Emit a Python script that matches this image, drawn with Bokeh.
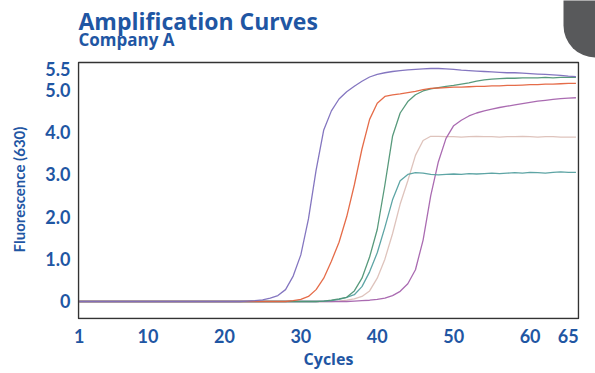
from bokeh.plotting import figure
from bokeh.layouts import column
from bokeh.models import FixedTicker, Range1d, Label, BoxAnnotation
from bokeh.embed import file_html
from bokeh.resources import INLINE

cycles = list(range(1, 67))

purple = [0, 0, 0, 0, 0, 0, 0, 0, 0, 0, 0,
          0, 0, 0, 0, 0, 0, 0, 0, 0, 0, 0,
          0.01, 0.02, 0.04, 0.08, 0.14, 0.28, 0.6, 1.1, 1.95, 3.1, 4.05,
          4.5, 4.78, 4.95, 5.08, 5.2, 5.3, 5.36, 5.4, 5.43, 5.45, 5.47,
          5.48, 5.49, 5.5, 5.5, 5.49, 5.48, 5.46, 5.45, 5.44, 5.43, 5.42,
          5.41, 5.4, 5.4, 5.39, 5.38, 5.37, 5.36, 5.35, 5.34, 5.32, 5.31]

orange = [0, 0, 0, 0, 0, 0, 0, 0, 0, 0, 0,
          0, 0, 0, 0, 0, 0, 0, 0, 0, 0, 0,
          0, 0, 0, 0, 0, 0, 0.02, 0.05, 0.12, 0.28, 0.55,
          0.95, 1.4, 2.0, 2.75, 3.6, 4.3, 4.68, 4.84, 4.88, 4.9, 4.93,
          4.96, 5.0, 5.03, 5.04, 5.05, 5.06, 5.06, 5.07, 5.08, 5.08, 5.09,
          5.09, 5.1, 5.1, 5.11, 5.12, 5.12, 5.13, 5.13, 5.14, 5.15, 5.15]

green = [0, 0, 0, 0, 0, 0, 0, 0, 0, 0, 0,
         0, 0, 0, 0, 0, 0, 0, 0, 0, 0, 0,
         0, 0, 0, 0, 0, 0, 0, 0, 0, 0, 0.01,
         0.03, 0.06, 0.1, 0.25, 0.55, 1.05, 1.7, 2.75, 3.9, 4.45, 4.72,
         4.88, 4.97, 5.02, 5.05, 5.08, 5.1, 5.13, 5.16, 5.2, 5.23, 5.25,
         5.26, 5.27, 5.27, 5.28, 5.28, 5.28, 5.29, 5.28, 5.29, 5.29, 5.29]

teal = [0, 0, 0, 0, 0, 0, 0, 0, 0, 0, 0,
        0, 0, 0, 0, 0, 0, 0, 0, 0, 0, 0,
        0, 0, 0, 0, 0, 0, 0, 0, 0, 0, 0.01,
        0.02, 0.05, 0.1, 0.16, 0.35, 0.7, 1.15, 1.75, 2.4, 2.85, 3.0,
        3.04, 3.03, 3.0, 2.99, 3.0, 3.01, 3.0, 3.02, 3.01, 3.02, 3.03,
        3.02, 3.03, 3.04, 3.03, 3.05, 3.04, 3.03, 3.05, 3.06, 3.05, 3.05]

beige = [0, 0, 0, 0, 0, 0, 0, 0, 0, 0, 0,
         0, 0, 0, 0, 0, 0, 0, 0, 0, 0, 0,
         0, 0, 0, 0, 0, 0, 0, 0, 0, 0, 0,
         0, 0.01, 0.03, 0.06, 0.12, 0.25, 0.55, 1.0, 1.6, 2.3, 2.85,
         3.45, 3.8, 3.9, 3.9, 3.89, 3.89, 3.88, 3.89, 3.9, 3.89, 3.89,
         3.88, 3.89, 3.89, 3.9, 3.89, 3.88, 3.89, 3.89, 3.88, 3.88, 3.88]

magenta = [0, 0, 0, 0, 0, 0, 0, 0, 0, 0, 0,
           0, 0, 0, 0, 0, 0, 0, 0, 0, 0, 0,
           0, 0, 0, 0, 0, 0, 0, 0, 0, 0, 0,
           0, 0, 0, 0.01, 0.02, 0.03, 0.05, 0.08, 0.14, 0.24, 0.42,
           0.75, 1.45, 2.5, 3.3, 3.85, 4.15, 4.28, 4.38, 4.45, 4.5, 4.54,
           4.58, 4.61, 4.64, 4.67, 4.7, 4.73, 4.75, 4.77, 4.79, 4.8, 4.81]

x_ticks = [1, 10, 20, 30, 40, 50, 60, 65]
y_ticks = [0, 1, 2, 3, 4, 5, 5.5]
y_tick_labels = ["0", "1.0", "2.0", "3.0", "4.0", "5.0", "5.5"]

series = [
    (beige, "#dcc0b8"),
    (magenta, "#a563ad"),
    (teal, "#55a0a0"),
    (green, "#4f9575"),
    (orange, "#e4643f"),
    (purple, "#7d6fbd"),
]

BLUE = "#1f56a3"
FONT = "Lato"
TFONT = "Open Sans"

# ---- header strip: titles and the dark corner tab ----
head = figure(width=595, height=58, output_backend="svg", toolbar_location=None,
              x_range=Range1d(0, 1), y_range=Range1d(0, 1),
              min_border_left=0, min_border_right=0, min_border_top=0,
              min_border_bottom=0)
head.axis.visible = False
head.grid.visible = False
head.outline_line_color = None
head.title.visible = False
head.background_fill_color = "white"
head.border_fill_color = "white"

# ---- main chart ----
p = figure(width=595, height=315, output_backend="svg", toolbar_location=None,
           x_range=Range1d(0.778, 66.466), y_range=Range1d(-0.425, 5.713),
           min_border_left=77, min_border_right=16, min_border_top=1,
           min_border_bottom=54)

x0 = 1
if "frame_align" in head.properties():
    head.frame_align = False
    p.frame_align = False
    x0 = 78

head.add_layout(Label(x=x0, y=38, x_units="screen", y_units="screen",
                      text="Amplification Curves", text_font=TFONT,
                      text_font_size="23px", text_font_style="bold",
                      text_color=BLUE, text_baseline="alphabetic", text_align="left"))
head.add_layout(Label(x=x0, y=19, x_units="screen", y_units="screen",
                      text="Company A", text_font=TFONT,
                      text_font_size="17px", text_font_style="bold",
                      text_color=BLUE, text_baseline="alphabetic", text_align="left"))
head.add_layout(BoxAnnotation(left=x0 + 485, right=x0 + 560, top=100, bottom=1,
                              left_units="screen", right_units="screen",
                              top_units="screen", bottom_units="screen",
                              fill_color="#58595b", fill_alpha=1.0, line_color=None,
                              border_radius=dict(top_left=0, top_right=0,
                                                 bottom_right=0, bottom_left=32)))

p.title.visible = False
p.outline_line_color = None
p.xgrid.visible = False
p.ygrid.visible = False
p.background_fill_color = "white"
p.border_fill_color = "white"

for ys, col in series:
    p.line(cycles, ys, line_color=col, line_width=1.3, line_alpha=0.95)

# chart box
p.add_layout(BoxAnnotation(left=0.908, right=66.34, bottom=-0.401, top=5.642,
                           fill_alpha=0, line_color="#333333", line_width=1.5,
                           line_alpha=1.0))

for ax in (p.xaxis[0], p.yaxis[0]):
    ax.axis_line_color = None
    ax.major_tick_line_color = None
    ax.minor_tick_line_color = None
    ax.major_tick_out = 0
    ax.major_tick_in = 0
    ax.minor_tick_out = 0
    ax.major_label_text_font = FONT
    ax.major_label_text_font_size = "18px"
    ax.major_label_text_font_style = "bold"
    ax.major_label_text_color = BLUE
    ax.axis_label_text_font_style = "bold"
    ax.axis_label_text_color = BLUE

p.xaxis.ticker = FixedTicker(ticks=x_ticks)
p.yaxis.ticker = FixedTicker(ticks=y_ticks)
p.yaxis.major_label_overrides = {t: s for t, s in zip(y_ticks, y_tick_labels)}
p.xaxis.major_label_standoff = 9
p.yaxis.major_label_standoff = 7
p.xaxis.axis_label = "Cycles"
p.xaxis.axis_label_text_font = TFONT
p.xaxis.axis_label_text_font_size = "16px"
p.xaxis.axis_label_standoff = 2
p.yaxis.axis_label = "Fluorescence (630)"
p.yaxis.axis_label_text_font = FONT
p.yaxis.axis_label_text_font_size = "15px"
p.yaxis.axis_label_standoff = 14

layout = column(head, p, spacing=0)
open("out.html", "w").write(file_html(layout, INLINE))
